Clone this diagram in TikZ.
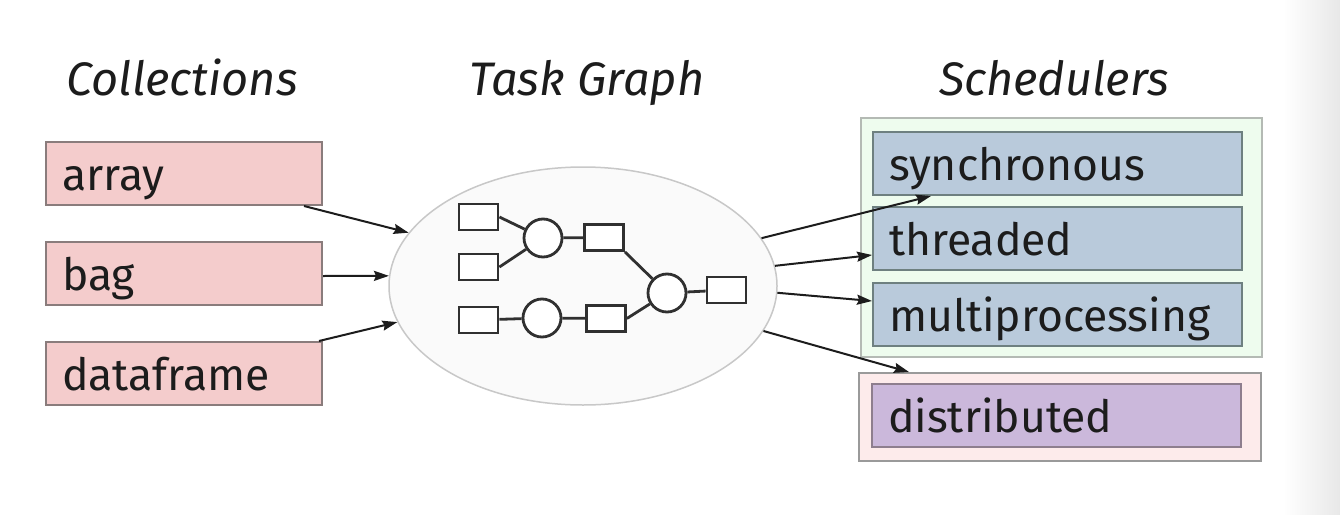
\documentclass[tikz,border=0pt]{standalone}
\usepackage{fontspec}
\setmainfont{Fira Sans}
\usetikzlibrary{shapes.geometric,arrows.meta}
\definecolor{pinkfill}{HTML}{F4CCCC}
\definecolor{pinkline}{HTML}{8A7C7C}
\definecolor{bluefill}{HTML}{B9CADB}
\definecolor{blueline}{HTML}{6E8080}
\definecolor{greenfill}{HTML}{EEFCEE}
\definecolor{greenline}{HTML}{B4BAB4}
\definecolor{rosefill}{HTML}{FDEBEB}
\definecolor{roseline}{HTML}{9A9A9A}
\definecolor{purplefill}{HTML}{CBB8DB}
\definecolor{purpleline}{HTML}{8E7E8E}
\definecolor{ellfill}{HTML}{FAFAFA}
\definecolor{ellline}{HTML}{C8C8C8}
\definecolor{ink}{HTML}{1C1C1C}
\definecolor{gline}{HTML}{303030}
\tikzset{
  lbl/.style={font=\fontsize{44.5}{50}\selectfont, text=ink, inner xsep=16pt, inner ysep=0pt,
    minimum height=63pt, text height=36pt, text depth=3pt, align=left, anchor=center},
  colbox/.style={lbl, draw=pinkline, fill=pinkfill, line width=2pt, text width=244pt},
  schedbox/.style={lbl, draw=blueline, fill=bluefill, line width=2pt, text width=337pt},
  distbox/.style={lbl, draw=purpleline, fill=purplefill, line width=2pt, text width=337pt},
  title/.style={font=\fontsize{47}{54}\selectfont\itshape, text=ink, anchor=base},
  gbox/.style={draw=gline, line width=2.8pt, fill=white, minimum width=39pt, minimum height=26pt, inner sep=0pt},
  gcirc/.style={draw=gline, line width=2.8pt, fill=white, circle, minimum size=38pt, inner sep=0pt},
  gedge/.style={draw=gline, line width=2.8pt},
  arr/.style={draw=ink, line width=2pt, -{Stealth[length=15pt,width=10pt,inset=2pt]}},
}
\begin{document}
\begin{tikzpicture}[x=1pt,y=-1pt]
\useasboundingbox (0,0) rectangle (1340,514);
\fill[white] (0,0) rectangle (1340,514);
\shade[left color=white, right color=black!9] (1283,0) rectangle (1340,514);

% titles
\node[title] (tcol) at (182,95) {Collections};
\node[title] (ttg) at (587,95) {Task Graph};
\node[title] (tsch) at (1054,95) {Schedulers};

% collections
\node[colbox] (array) at (184,173.5) {array};
\node[colbox] (bag) at (184,273.5) {bag};
\node[colbox] (dataframe) at (184,373.5) {dataframe};

% task graph ellipse
\node[ellipse, draw=ellline, fill=ellfill, line width=1.5pt, minimum width=388pt, minimum height=238pt, inner sep=0pt] (tg) at (583,286) {};

% inner graph
\node[gbox] (b1) at (478.5,217) {};
\node[gbox] (b2) at (478.5,267) {};
\node[gbox] (b5) at (478.5,320) {};
\node[gcirc] (c1) at (543,238) {};
\node[gcirc] (c3) at (542,318) {};
\node[gbox] (b3) at (604,237.5) {};
\node[gbox] (b6) at (606,318.5) {};
\node[gcirc] (c2) at (667,293) {};
\node[gbox] (b4) at (726.5,290) {};
\draw[gedge] (b1.east) -- (c1);
\draw[gedge] (b2.east) -- (c1);
\draw[gedge] (c1) -- (b3);
\draw[gedge] (b3.south east) -- (c2);
\draw[gedge] (b6.east) -- (c2);
\draw[gedge] (c2) -- (b4);
\draw[gedge] (b5) -- (c3);
\draw[gedge] (c3) -- (b6);

% schedulers
\node[draw=greenline, fill=greenfill, line width=2pt, minimum width=401pt, minimum height=239pt, inner sep=0pt] (local) at (1061.5,237.5) {};
\node[draw=roseline, fill=rosefill, line width=2pt, minimum width=402pt, minimum height=88pt, inner sep=0pt] (remote) at (1060,417) {};
\node[schedbox] (sync) at (1057.5,163.5) {synchronous};
\node[schedbox] (threaded) at (1057.5,238.5) {threaded};
\node[schedbox] (multi) at (1057.5,314.5) {multiprocessing};
\node[distbox] (dist) at (1056.5,415.5) {distributed};

% arrows in
\draw[arr] ([xshift=-19pt]array.south east) -- (tg.163.6);
\draw[arr] ([yshift=-2.5pt]bag.east) -- (tg.177);
\draw[arr] ([xshift=-4pt]dataframe.north east) -- (tg.191.3);

% arrows out
\draw[arr] (tg.15.6) -- ([xshift=59pt]sync.south west);
\draw[arr] (tg.6.8) -- ([yshift=-16.5pt]threaded.west);
\draw[arr] (tg.-2.7) -- ([yshift=13.5pt]multi.west);
\draw[arr] (tg.-14.1) -- ([xshift=51pt]remote.north west);
\end{tikzpicture}
\end{document}
